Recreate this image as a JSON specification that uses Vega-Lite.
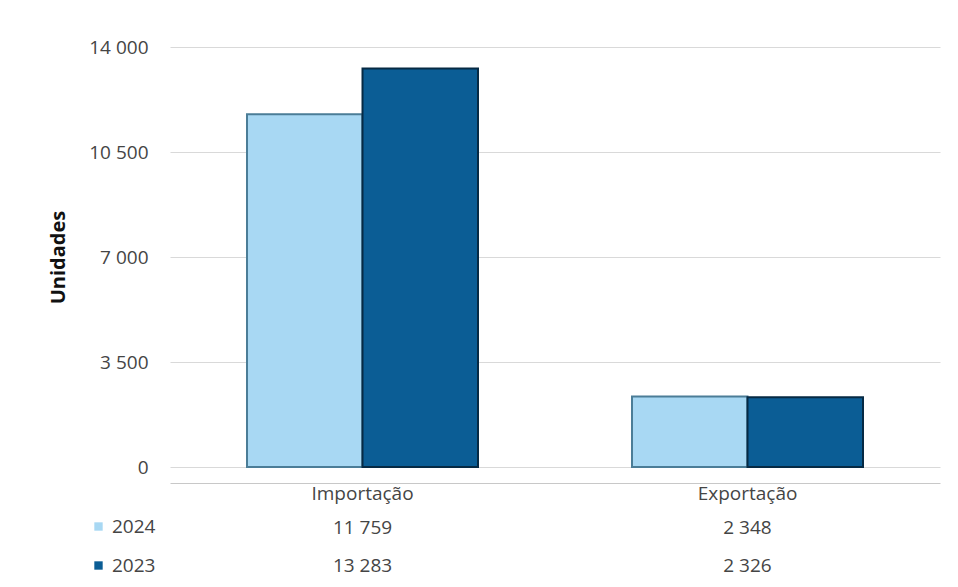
{
  "$schema": "https://vega.github.io/schema/vega-lite/v6.json",
  "background": "white",
  "padding": {"left": 48, "top": 38, "right": 16, "bottom": 2},
  "config": {
    "locale": {"number": {"decimal": ",", "thousands": " ", "grouping": [3], "currency": ["", " €"]}},
    "font": "Open Sans",
    "view": {"stroke": null}
  },
  "datasets": {
    "trade": [
      {"fluxo": "Importação", "ano": "2024", "unidades": 11759},
      {"fluxo": "Importação", "ano": "2023", "unidades": 13283},
      {"fluxo": "Exportação", "ano": "2024", "unidades": 2348},
      {"fluxo": "Exportação", "ano": "2023", "unidades": 2326}
    ]
  },
  "data": {"name": "trade"},
  "bounds": "flush",
  "spacing": 42,
  "vconcat": [
    {
      "width": 770,
      "height": 420,
      "mark": {"type": "bar", "strokeWidth": 2},
      "encoding": {
        "x": {
          "field": "fluxo", "type": "nominal", "sort": ["Importação", "Exportação"],
          "scale": {"paddingInner": 0.4, "paddingOuter": 0.2},
          "axis": {"title": null, "orient": "bottom", "offset": 16, "domainColor": "#c8c8c8", "ticks": false, "labelAngle": 0, "labelFontSize": 19, "labelColor": "#454545", "labelPadding": 1}
        },
        "xOffset": {"field": "ano", "type": "nominal", "sort": ["2024", "2023"]},
        "y": {
          "field": "unidades", "type": "quantitative",
          "scale": {"domain": [0, 14000], "nice": false},
          "axis": {"title": "Unidades", "values": [0, 3500, 7000, 10500, 14000], "format": ",d", "domain": false, "ticks": false, "labelPadding": 22, "labelFontSize": 19, "labelColor": "#454545", "gridColor": "#d9d9d9", "titleFontSize": 20, "titleFontWeight": "bold", "titleColor": "#111111", "titlePadding": 20}
        },
        "color": {
          "field": "ano", "type": "nominal",
          "scale": {"domain": ["2024", "2023"], "range": ["#a8d8f3", "#0b5d95"]},
          "legend": {"title": null, "orient": "none", "legendX": -81, "legendY": 470, "symbolType": "square", "symbolSize": 70, "symbolStrokeWidth": 0, "labelFontSize": 19, "labelColor": "#454545", "rowPadding": 19, "labelOffset": 4}
        },
        "stroke": {
          "field": "ano", "type": "nominal",
          "scale": {"domain": ["2024", "2023"], "range": ["#4b7d97", "#062a44"]},
          "legend": null
        }
      }
    },
    {
      "width": 770,
      "height": 76,
      "mark": {"type": "text", "fontSize": 19, "color": "#454545"},
      "encoding": {
        "x": {"field": "fluxo", "type": "nominal", "sort": ["Importação", "Exportação"], "axis": null},
        "y": {"field": "ano", "type": "nominal", "sort": ["2024", "2023"], "axis": null},
        "text": {"field": "unidades", "type": "quantitative", "format": ",d"}
      }
    }
  ]
}
